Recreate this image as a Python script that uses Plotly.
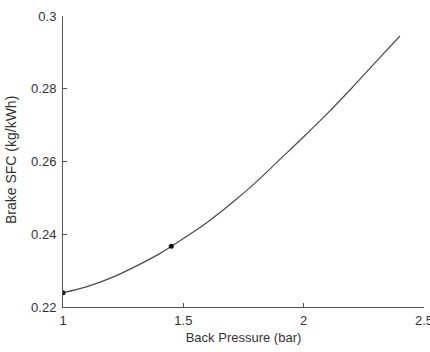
import plotly.graph_objects as go

back_pressure = [1.0, 1.1, 1.2, 1.3, 1.4, 1.5, 1.6, 1.7, 1.8, 1.9, 2.0, 2.1, 2.2, 2.3, 2.4]
brake_sfc = [0.2239, 0.2256, 0.2280, 0.2311, 0.2346, 0.2388, 0.2433, 0.2485,
             0.2542, 0.2605, 0.2668, 0.2733, 0.2802, 0.2874, 0.2945]

marker_x = [1.0, 1.45]
marker_y = [0.2239, 0.2367]

x_ticks = [1, 1.5, 2, 2.5]
x_tick_labels = ["1", "1.5", "2", "2.5"]
y_ticks = [0.22, 0.24, 0.26, 0.28, 0.3]
y_tick_labels = ["0.22", "0.24", "0.26", "0.28", "0.3"]

FONT = "Liberation Sans, Arial, sans-serif"

fig = go.Figure()
fig.add_trace(go.Scatter(x=back_pressure, y=brake_sfc, mode="lines",
                         line=dict(color="#4a4a4a", width=1.2, shape="spline"),
                         showlegend=False, hoverinfo="skip"))
fig.add_trace(go.Scatter(x=marker_x, y=marker_y, mode="markers",
                         marker=dict(color="#111111", size=5),
                         showlegend=False))

axis_common = dict(showgrid=False, zeroline=False, showline=True, linecolor="#555555",
                   linewidth=1, ticks="inside", ticklen=4, tickcolor="#555555",
                   automargin=False,
                   tickfont=dict(family=FONT, size=13, color="#333333"))

fig.update_layout(
    width=430, height=352,
    margin=dict(l=63, r=6, t=16, b=45),
    paper_bgcolor="white", plot_bgcolor="white",
    xaxis=dict(range=[1, 2.5], tickvals=x_ticks, ticktext=x_tick_labels,
               ticklabeloverflow="allow", ticklabelstandoff=1,
               title=dict(text="Back Pressure (bar)", standoff=6,
                          font=dict(family=FONT, size=13, color="#333333")),
               **axis_common),
    yaxis=dict(range=[0.22, 0.3], tickvals=y_ticks, ticktext=y_tick_labels,
               ticklabelstandoff=3,
               **axis_common),
    annotations=[dict(text="Brake SFC (kg/kWh)", textangle=-90, showarrow=False,
                      xref="paper", yref="paper", x=-0.144, y=0.505,
                      xanchor="center", yanchor="middle",
                      font=dict(family=FONT, size=14, color="#333333"))],
)

fig.write_html("out.html")
